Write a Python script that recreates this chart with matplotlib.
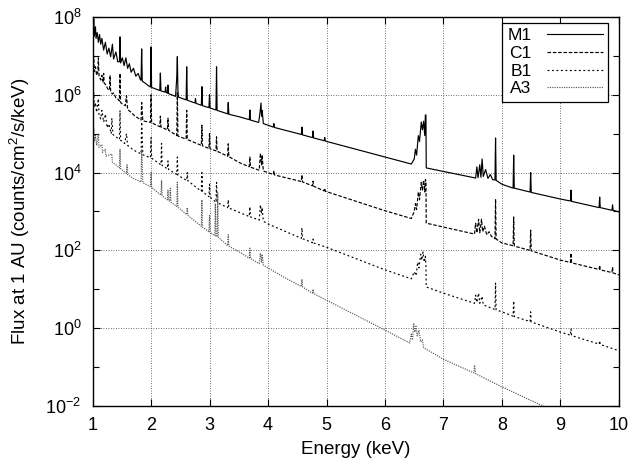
import numpy as np
import matplotlib
matplotlib.use('agg')
import matplotlib.pyplot as plt
from matplotlib.ticker import FixedLocator, NullFormatter

plt.rcParams['font.family'] = ['Liberation Sans', 'DejaVu Sans']
plt.rcParams['mathtext.fontset'] = 'custom'
plt.rcParams['mathtext.rm'] = 'Liberation Sans'
plt.rcParams['mathtext.it'] = 'Liberation Sans:italic'

#spectra: (energy keV, log10 flux)
m1 = [(1.00, 7.85), (1.01, 7.45), (1.02, 7.95), (1.03, 7.5), (1.05, 7.75), (1.06, 7.45),
      (1.08, 7.6), (1.10, 7.35), (1.12, 7.55), (1.14, 7.3), (1.16, 7.45), (1.19, 7.15),
      (1.22, 7.35), (1.25, 7.05), (1.28, 7.2), (1.31, 6.98), (1.34, 7.3), (1.36, 6.92),
      (1.40, 7.1), (1.43, 6.85), (1.46, 6.85), (1.47, 7.49), (1.48, 6.82), (1.51, 6.95),
      (1.54, 6.75), (1.57, 6.95), (1.60, 6.68), (1.63, 6.8), (1.66, 6.58), (1.70, 6.68),
      (1.74, 6.48), (1.78, 6.55), (1.82, 6.38), (1.83, 6.38), (1.84, 7.18), (1.85, 6.35),
      (1.90, 6.3), (1.95, 6.24), (1.99, 6.2), (2.00, 7.23), (2.01, 6.19), (2.15, 6.11),
      (2.16, 6.56), (2.17, 6.1), (2.24, 6.07), (2.25, 6.2), (2.26, 6.06), (2.28, 6.04),
      (2.29, 6.25), (2.30, 6.03), (2.42, 5.96), (2.44, 6.45), (2.45, 6.98), (2.46, 6.1),
      (2.47, 5.94), (2.60, 5.87), (2.61, 6.72), (2.62, 5.86), (2.75, 5.79), (2.76, 5.9),
      (2.77, 5.78), (2.86, 5.73), (2.87, 6.21), (2.88, 5.72), (2.99, 5.67), (3.00, 6.0),
      (3.01, 5.66), (3.11, 5.61), (3.12, 6.72), (3.13, 5.6), (3.31, 5.51), (3.32, 5.8),
      (3.33, 5.5), (3.52, 5.43), (3.68, 5.36), (3.69, 5.61), (3.70, 5.35), (3.84, 5.29),
      (3.86, 5.5), (3.88, 5.79), (3.89, 5.45), (3.90, 5.6), (3.92, 5.26), (4.09, 5.17),
      (4.10, 5.26), (4.11, 5.16), (4.57, 4.98), (4.58, 5.17), (4.59, 4.97), (4.76, 4.9),
      (4.77, 5.07), (4.78, 4.89), (4.96, 4.82), (4.97, 4.9), (4.98, 4.81), (6.00, 4.4),
      (6.45, 4.22), (6.50, 4.35), (6.52, 4.6), (6.54, 4.45), (6.57, 4.95), (6.59, 4.8),
      (6.62, 5.3), (6.64, 5.1), (6.66, 5.32), (6.68, 4.95), (6.69, 5.48), (6.70, 5.48),
      (6.705, 4.12), (7.00, 4.03), (7.55, 3.86), (7.57, 4.15), (7.59, 3.87), (7.62, 4.2),
      (7.64, 3.88), (7.66, 4.35), (7.68, 3.9), (7.72, 4.08), (7.76, 3.85), (7.80, 3.95),
      (7.84, 3.82), (7.88, 3.81), (7.89, 4.89), (7.90, 3.8), (8.00, 3.7), (8.19, 3.6),
      (8.20, 4.45), (8.21, 3.6), (8.48, 3.5), (8.49, 4.0), (8.50, 3.49), (9.00, 3.32),
      (9.17, 3.27), (9.18, 3.55), (9.19, 3.26), (9.66, 3.1), (9.67, 3.37), (9.68, 3.1),
      (9.88, 3.03), (9.89, 3.17), (9.90, 3.03), (10.0, 2.99)]

c1 = [(1.00, 6.9), (1.01, 6.65), (1.02, 7.0), (1.03, 6.6), (1.05, 6.72), (1.07, 6.5),
      (1.09, 6.6), (1.10, 6.95), (1.11, 6.5), (1.14, 6.38), (1.16, 6.5), (1.18, 6.32),
      (1.19, 6.55), (1.20, 6.3), (1.23, 6.25), (1.26, 6.15), (1.29, 6.12), (1.30, 6.5),
      (1.31, 6.08), (1.34, 6.02), (1.36, 6.05), (1.40, 5.92), (1.44, 5.88), (1.46, 5.84),
      (1.47, 6.55), (1.48, 5.8), (1.52, 5.75), (1.56, 5.72), (1.58, 5.98), (1.60, 5.62),
      (1.66, 5.55), (1.72, 5.46), (1.78, 5.4), (1.83, 5.35), (1.84, 5.8), (1.86, 5.33),
      (1.99, 5.29), (2.00, 6.0), (2.01, 5.28), (2.15, 5.18), (2.16, 5.45), (2.17, 5.17),
      (2.28, 5.1), (2.29, 5.4), (2.30, 5.09), (2.44, 4.95), (2.45, 6.05), (2.46, 4.94),
      (2.60, 4.86), (2.61, 5.6), (2.62, 4.85), (2.86, 4.7), (2.87, 5.22), (2.88, 4.69),
      (2.99, 4.62), (3.00, 5.0), (3.01, 4.61), (3.11, 4.56), (3.12, 4.92), (3.13, 4.55),
      (3.31, 4.42), (3.32, 4.74), (3.33, 4.41), (3.52, 4.25), (3.68, 4.15), (3.69, 4.4),
      (3.70, 4.14), (3.85, 4.06), (3.87, 4.5), (3.89, 4.2), (3.90, 4.45), (3.92, 4.04),
      (4.00, 4.0), (4.09, 3.95), (4.10, 4.05), (4.11, 3.94), (4.57, 3.77), (4.58, 3.94),
      (4.59, 3.76), (4.76, 3.66), (4.77, 3.78), (4.78, 3.65), (4.96, 3.53), (4.97, 3.6),
      (4.98, 3.52), (6.00, 3.02), (6.45, 2.82), (6.50, 3.0), (6.52, 3.2), (6.54, 3.05),
      (6.57, 3.5), (6.59, 3.3), (6.62, 3.75), (6.64, 3.55), (6.66, 3.8), (6.68, 3.5),
      (6.69, 3.82), (6.70, 3.8), (6.705, 2.7), (7.00, 2.6), (7.53, 2.42), (7.55, 2.7),
      (7.57, 2.45), (7.60, 2.8), (7.62, 2.45), (7.65, 2.8), (7.67, 2.48), (7.70, 2.62),
      (7.74, 2.4), (7.78, 2.48), (7.82, 2.36), (7.88, 2.3), (7.89, 3.32), (7.90, 2.29),
      (8.00, 2.19), (8.19, 2.12), (8.20, 2.86), (8.21, 2.11), (8.48, 2.0), (8.49, 2.52),
      (8.50, 1.99), (9.00, 1.75), (9.17, 1.69), (9.18, 1.93), (9.19, 1.68), (9.66, 1.51),
      (9.67, 1.62), (9.68, 1.5), (9.88, 1.43), (9.89, 1.57), (9.90, 1.42), (10.0, 1.37)]

b1 = [(1.00, 6.0), (1.01, 5.72), (1.02, 6.05), (1.03, 5.68), (1.05, 5.8), (1.07, 5.55),
      (1.10, 5.9), (1.11, 5.5), (1.14, 5.38), (1.16, 5.6), (1.19, 5.3), (1.22, 5.5),
      (1.25, 5.15), (1.28, 5.25), (1.32, 5.0), (1.33, 5.4), (1.35, 4.98), (1.40, 4.92),
      (1.46, 4.85), (1.47, 5.6), (1.48, 4.83), (1.55, 4.75), (1.58, 5.0), (1.60, 4.7),
      (1.70, 4.58), (1.83, 4.48), (1.84, 5.3), (1.86, 4.46), (1.99, 4.38), (2.00, 4.9),
      (2.01, 4.37), (2.17, 4.2), (2.18, 4.75), (2.19, 4.18), (2.28, 4.1), (2.29, 4.3),
      (2.30, 4.08), (2.44, 3.95), (2.45, 4.4), (2.46, 3.93), (2.61, 3.8), (2.62, 4.0),
      (2.63, 3.79), (2.86, 3.52), (2.87, 4.0), (2.88, 3.51), (2.99, 3.38), (3.00, 3.7),
      (3.01, 3.37), (3.11, 3.24), (3.12, 3.75), (3.13, 3.23), (3.31, 3.1), (3.32, 3.3),
      (3.33, 3.09), (3.52, 2.97), (3.68, 2.87), (3.69, 3.12), (3.70, 2.86), (3.85, 2.78),
      (3.87, 3.17), (3.89, 2.95), (3.90, 3.1), (3.92, 2.75), (4.00, 2.68), (4.57, 2.31),
      (4.58, 2.58), (4.59, 2.3), (4.76, 2.2), (4.77, 2.29), (4.78, 2.19), (5.00, 2.08),
      (6.00, 1.5), (6.45, 1.27), (6.50, 1.45), (6.53, 1.35), (6.56, 1.7), (6.58, 1.55),
      (6.61, 1.9), (6.63, 1.75), (6.65, 1.96), (6.67, 1.7), (6.69, 1.85), (6.70, 1.6),
      (6.705, 1.06), (7.00, 0.9), (7.53, 0.64), (7.55, 0.85), (7.57, 0.66), (7.60, 0.9),
      (7.62, 0.64), (7.66, 0.82), (7.68, 0.6), (7.88, 0.48), (7.89, 1.16), (7.90, 0.47),
      (8.00, 0.42), (8.19, 0.31), (8.20, 0.7), (8.21, 0.3), (8.48, 0.17), (8.49, 0.42),
      (8.50, 0.16), (9.00, -0.1), (9.17, -0.18), (9.18, -0.02), (9.19, -0.19),
      (9.66, -0.41), (9.67, -0.32), (9.68, -0.42), (10.0, -0.58)]

a3 = [(1.00, 5.1), (1.01, 4.85), (1.02, 5.15), (1.03, 4.8), (1.05, 4.95), (1.07, 4.7),
      (1.10, 5.0), (1.11, 4.65), (1.16, 4.72), (1.17, 4.52), (1.22, 4.6), (1.23, 4.42),
      (1.33, 4.48), (1.34, 4.26), (1.40, 4.2), (1.46, 4.12), (1.47, 4.6), (1.48, 4.1),
      (1.58, 3.98), (1.59, 4.2), (1.60, 3.95), (1.70, 3.85), (1.83, 3.76), (1.84, 4.6),
      (1.86, 3.74), (1.99, 3.64), (2.00, 4.0), (2.01, 3.62), (2.17, 3.42), (2.18, 3.8),
      (2.19, 3.4), (2.28, 3.3), (2.29, 3.55), (2.30, 3.28), (2.32, 3.26), (2.33, 3.6),
      (2.34, 3.24), (2.44, 3.13), (2.45, 3.75), (2.46, 3.11), (2.61, 2.92), (2.62, 3.1),
      (2.63, 2.9), (2.86, 2.62), (2.87, 3.3), (2.88, 2.6), (2.99, 2.48), (3.00, 2.9),
      (3.01, 2.46), (3.09, 2.38), (3.10, 3.2), (3.11, 2.37), (3.13, 2.35), (3.14, 3.48),
      (3.15, 2.34), (3.31, 2.12), (3.32, 2.4), (3.33, 2.11), (3.52, 1.95), (3.68, 1.8),
      (3.69, 2.06), (3.70, 1.79), (3.85, 1.66), (3.87, 1.93), (3.89, 1.7), (3.90, 1.9),
      (3.92, 1.62), (4.00, 1.55), (4.26, 1.32), (4.57, 1.07), (4.58, 1.26), (4.59, 1.06),
      (4.76, 0.9), (4.77, 1.0), (4.78, 0.89), (5.00, 0.72), (6.00, -0.05), (6.42, -0.38),
      (6.45, -0.15), (6.47, -0.3), (6.49, 0.13), (6.51, -0.1), (6.53, 0.05), (6.55, -0.2),
      (6.58, -0.05), (6.61, -0.35), (6.64, -0.3), (6.66, -0.5), (7.00, -0.8),
      (7.52, -1.15), (7.53, -0.95), (7.55, -1.17), (8.00, -1.51), (8.70, -2.0),
      (10.0, -2.9)]

series = [('M1', m1, '-', 'black'),
          ('C1', c1, (0, (3, 1.5)), 'black'),
          ('B1', b1, (0, (1.6, 2.2)), 'black'),
          ('A3', a3, (0, (1, 1)), '0.35')]

fig, ax = plt.subplots(figsize=(6.32, 4.66), dpi=100)
fig.subplots_adjust(left=0.1464, right=0.9794, top=0.9635, bottom=0.1288)

for name, pts, ls, col in series:
	e, f = zip(*pts)
	ax.plot(e, 10 ** np.array(f), linestyle=ls, color=col, lw=0.85, label=name)

ax.set_yscale('log')
ax.set_xlim(1, 10)
ax.set_ylim(1e-2, 1e8)

ax.set_xticks(range(1, 11))
ax.yaxis.set_major_locator(FixedLocator([10.0 ** k for k in range(-2, 9, 2)]))
ax.yaxis.set_minor_locator(FixedLocator([10.0 ** k for k in range(-1, 8, 2)]))
ax.yaxis.set_minor_formatter(NullFormatter())
ax.set_yticklabels(['$10^{%d}$' % k for k in range(-2, 9, 2)])

ax.tick_params(which='both', direction='in', top=True, right=True, labelsize=13, width=0.8)
ax.tick_params(which='major', length=5, pad=8)
ax.tick_params(which='minor', length=4)
ax.grid(True, which='major', color='0.25', linestyle=(0, (1, 2)), lw=0.6)
for s in ax.spines.values():
	s.set_linewidth(1.0)

ax.set_xlabel('Energy (keV)', fontsize=13.5, labelpad=5)
ax.set_ylabel('Flux at 1 AU (counts/cm$^2$/s/keV)', fontsize=13.5, labelpad=10)

leg = ax.legend(loc='upper right', bbox_to_anchor=(0.979, 0.985), fontsize=12.5,
                markerfirst=False, fancybox=False, framealpha=1, edgecolor='black',
                handlelength=3.2, labelspacing=0.15, borderpad=0.3, handletextpad=0.9,
                borderaxespad=0)
leg.get_frame().set_linewidth(0.9)

plt.savefig('out.png', dpi=100)
